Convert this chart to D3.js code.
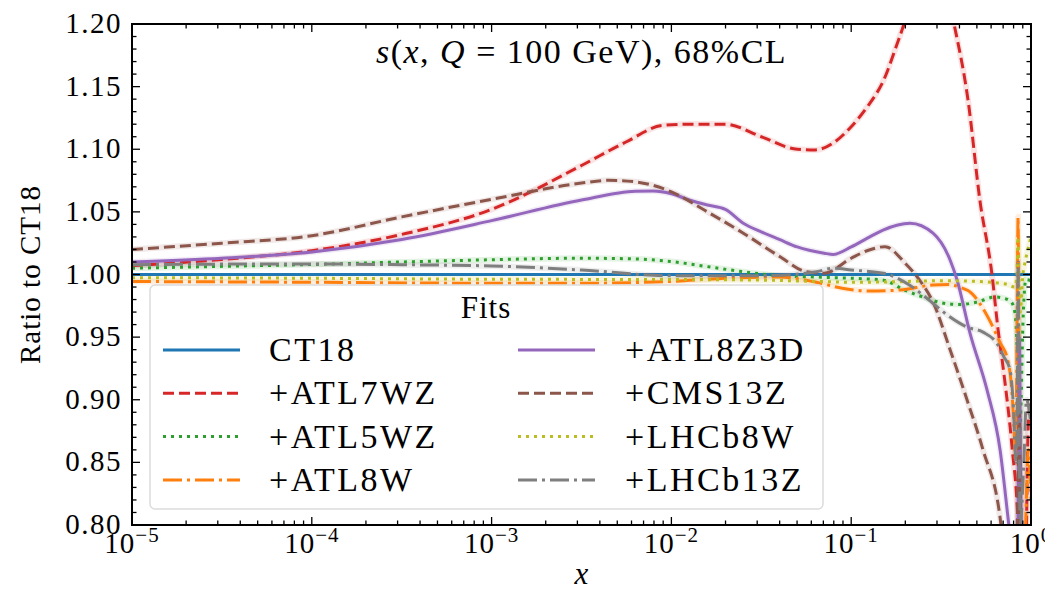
<!DOCTYPE html>
<html>
<head>
<meta charset="utf-8">
<script src="https://cdn.jsdelivr.net/npm/d3@7"></script>
<style>
  body { margin: 0; background: #fff; }
  svg text { font-family: "Liberation Serif", "Times New Roman", "DejaVu Serif", serif; }
</style>
</head>
<body>
<div id="chart"></div>
<script>
// --- data (x given as log10 exponents, y as ratio to CT18) ---
const ct18X = [-5, 0];
const ct18Y = [1, 1];

const atl7wzX = [-5, -4.5, -4, -3.5, -3, -2.5, -2.25, -2.05, -1.9, -1.7, -1.5, -1.3, -1.2, -1.1, -1.0, -0.91, -0.82, -0.73, -0.6, -0.5, -0.428, -0.35, -0.284, -0.217, -0.184, -0.15, -0.106, -0.072, -0.05, -0.03, -0.015, 0];
const atl7wzY = [1.007, 1.012, 1.019, 1.032, 1.052, 1.087, 1.106, 1.119, 1.120, 1.120, 1.110, 1.100, 1.0995, 1.105, 1.118, 1.134, 1.155, 1.190, 1.240, 1.245, 1.200, 1.139, 1.059, 1.000, 0.957, 0.920, 0.863, 0.800, 0.700, 0.760, 0.880, 0.900];

const atl5wzX = [-5, -4.5, -4, -3.5, -3, -2.5, -2.2, -2, -1.8, -1.6, -1.4, -1.2, -1, -0.82, -0.71, -0.6, -0.5, -0.4, -0.3, -0.2, -0.15, -0.11, -0.09, -0.075, -0.065, -0.055, -0.045, -0.028, 0];
const atl5wzY = [1.005, 1.0065, 1.008, 1.010, 1.0118, 1.013, 1.0124, 1.0103, 1.0063, 1.0022, 0.999, 0.998, 0.997, 0.9955, 0.988, 0.982, 0.9775, 0.976, 0.978, 0.982, 0.981, 0.978, 0.970, 0.930, 0.860, 0.900, 0.960, 0.996, 0.995];

const atl8wX = [-5, -4, -3, -2.5, -2, -1.7, -1.4, -1.2, -1.05, -0.9, -0.73, -0.545, -0.45, -0.4, -0.33, -0.24, -0.17, -0.13, -0.11, -0.095, -0.085, -0.078, -0.072, -0.067, -0.06, -0.05, -0.03, -0.015, 0];
const atl8wY = [0.9944, 0.9938, 0.993, 0.993, 0.9945, 0.997, 0.998, 0.994, 0.989, 0.9868, 0.9876, 0.9916, 0.992, 0.990, 0.985, 0.966, 0.945, 0.932, 0.913, 0.880, 0.850, 0.950, 1.046, 0.950, 0.820, 0.750, 0.800, 0.860, 0.820];

const atl8z3dX = [-5, -4.5, -4, -3.5, -3, -2.5, -2.2, -2.1, -2, -1.9, -1.8, -1.7, -1.6, -1.5, -1.4, -1.3, -1.15, -1.1, -1, -0.91, -0.823, -0.673, -0.545, -0.45, -0.412, -0.339, -0.245, -0.172, -0.128, -0.1, -0.075, -0.068, -0.065, -0.06, -0.05, 0];
const atl8z3dY = [1.010, 1.013, 1.018, 1.028, 1.043, 1.0595, 1.0665, 1.0667, 1.0645, 1.0595, 1.0555, 1.052, 1.041, 1.034, 1.028, 1.022, 1.017, 1.016, 1.022, 1.029, 1.0355, 1.0409, 1.033, 1.0116, 0.996, 0.953, 0.908, 0.860, 0.806, 0.770, 0.750, 0.900, 0.950, 0.880, 0.750, 0.700];

const cms13zX = [-5, -4.5, -4, -3.5, -3, -2.5, -2.35, -2.2, -2, -1.8, -1.6, -1.4, -1.25, -1.15, -1, -0.9, -0.812, -0.7, -0.617, -0.545, -0.45, -0.356, -0.267, -0.172, -0.1, -0.07, -0.065, -0.06, -0.05, 0];
const cms13zY = [1.020, 1.025, 1.031, 1.046, 1.060, 1.073, 1.0752, 1.074, 1.066, 1.050, 1.033, 1.0146, 1.0022, 1.001, 1.013, 1.0196, 1.0222, 1.009, 0.995, 0.978, 0.940, 0.900, 0.860, 0.806, 0.700, 0.850, 0.890, 0.800, 0.700, 0.650];

const lhcb8wX = [-5, -4, -3, -2, -1.5, -1.2, -1, -0.82, -0.5, -0.3, -0.17, -0.128, -0.09, -0.078, -0.072, -0.066, -0.06, -0.045, -0.033, -0.017, 0];
const lhcb8wY = [0.9975, 0.997, 0.9962, 0.996, 0.9955, 0.9945, 0.9938, 0.994, 0.995, 0.9945, 0.993, 0.992, 0.990, 1.000, 1.030, 0.990, 0.970, 1.000, 1.010, 1.020, 1.030];

const lhcb13zX = [-5, -4.5, -4, -3.5, -3, -2.5, -2, -1.5, -1.2, -1.1, -1, -0.82, -0.67, -0.545, -0.45, -0.356, -0.267, -0.19, -0.15, -0.117, -0.1, -0.083, -0.076, -0.072, -0.067, -0.06, -0.04, -0.025, 0];
const lhcb13zY = [1.0078, 1.0083, 1.0084, 1.0078, 1.0068, 1.0036, 0.9990, 0.9990, 1.002, 1.005, 1.0036, 1.001, 0.991, 0.977, 0.966, 0.958, 0.954, 0.945, 0.934, 0.924, 0.900, 0.850, 0.900, 1.010, 0.900, 0.800, 0.850, 0.900, 0.880];

const seriesNames = ["CT18", "+ATL7WZ", "+ATL5WZ", "+ATL8W", "+ATL8Z3D", "+CMS13Z", "+LHCb8W", "+LHCb13Z"];
const seriesX = [ct18X, atl7wzX, atl5wzX, atl8wX, atl8z3dX, cms13zX, lhcb8wX, lhcb13zX];
const seriesY = [ct18Y, atl7wzY, atl5wzY, atl8wY, atl8z3dY, cms13zY, lhcb8wY, lhcb13zY];

const yTicks = [0.80, 0.85, 0.90, 0.95, 1.00, 1.05, 1.10, 1.15, 1.20];
const xTickExps = [-5, -4, -3, -2, -1, 0];

// --- styles ---
const colors = ["#1f77b4", "#d62728", "#2ca02c", "#ff7f0e", "#9467bd", "#8c564b", "#bcbd22", "#7f7f7f"];
const dashes = [null, "11,5", "3,5", "19,5,3,5", null, "11,5", "3,5", "19,5,3,5"];
const serif = "'Liberation Serif', 'Times New Roman', 'DejaVu Serif', serif";

const width = 1045, height = 591;
const margin = { top: 24, right: 14, bottom: 66, left: 132 };
const iw = width - margin.left - margin.right;
const ih = height - margin.top - margin.bottom;

const x = d3.scaleLog().domain([1e-5, 1]).range([0, iw]);
const y = d3.scaleLinear().domain([0.8, 1.2]).range([ih, 0]);

const svg = d3.select("#chart").append("svg")
  .attr("width", width).attr("height", height)
  .attr("font-family", serif);

svg.append("defs").append("clipPath").attr("id", "clip")
  .append("rect").attr("width", iw).attr("height", ih);

const g = svg.append("g").attr("transform", `translate(${margin.left},${margin.top})`);

// --- curves ---
const line = d3.line()
  .x(d => x(d[0]))
  .y(d => y(d[1]))
  .curve(d3.curveMonotoneX);

const curves = g.append("g").attr("clip-path", "url(#clip)");
const pointsOf = i => seriesX[i].map((e, j) => [Math.pow(10, e), seriesY[i][j]]);
// faint band under each fit line
seriesNames.forEach((name, i) => {
  if (i === 0) return;
  curves.append("path").datum(pointsOf(i))
    .attr("d", line).attr("fill", "none")
    .attr("stroke", colors[i]).attr("stroke-opacity", 0.13)
    .attr("stroke-width", 6);
});
seriesNames.forEach((name, i) => {
  curves.append("path").datum(pointsOf(i))
    .attr("d", line).attr("fill", "none")
    .attr("stroke", colors[i]).attr("stroke-width", 3)
    .attr("stroke-dasharray", dashes[i]);
});

// --- ticks (inward, all four sides) ---
const majorX = xTickExps.map(e => Math.pow(10, e));
const minorX = [];
xTickExps.slice(0, -1).forEach(e => { for (let k = 2; k <= 9; k++) minorX.push(k * Math.pow(10, e)); });
const minorY = d3.range(80, 121).map(v => v / 100).filter(v => Math.round(v * 100) % 5 !== 0);

const ticks = g.append("g").attr("stroke", "#000").attr("stroke-width", 1.3);
[[majorX, 8], [minorX, 4.5]].forEach(([vals, len]) => {
  vals.forEach(v => {
    ticks.append("line").attr("x1", x(v)).attr("x2", x(v)).attr("y1", ih).attr("y2", ih - len);
    ticks.append("line").attr("x1", x(v)).attr("x2", x(v)).attr("y1", 0).attr("y2", len);
  });
});
[[yTicks, 8], [minorY, 4.5]].forEach(([vals, len]) => {
  vals.forEach(v => {
    ticks.append("line").attr("y1", y(v)).attr("y2", y(v)).attr("x1", 0).attr("x2", len);
    ticks.append("line").attr("y1", y(v)).attr("y2", y(v)).attr("x1", iw).attr("x2", iw - len);
  });
});

g.append("rect").attr("width", iw).attr("height", ih)
  .attr("fill", "none").attr("stroke", "#000").attr("stroke-width", 2);

// --- tick labels ---
g.append("g").selectAll("text").data(yTicks).join("text")
  .attr("x", -10).attr("y", d => y(d) + 9)
  .attr("text-anchor", "end").attr("font-size", 29)
  .attr("letter-spacing", 1.5)
  .attr("font-family", serif)
  .text(d => d.toFixed(2));

const xl = g.append("g").selectAll("text").data(xTickExps).join("text")
  .attr("x", d => x(Math.pow(10, d))).attr("y", ih + 28)
  .attr("text-anchor", "middle").attr("font-size", 29)
  .attr("letter-spacing", 1)
  .attr("font-family", serif);
xl.append("tspan").text("10");
xl.append("tspan").attr("dy", -11).attr("font-size", 21)
  .text(d => d === 0 ? "0" : "\u2212" + Math.abs(d));

// --- axis labels and title ---
svg.append("text")
  .attr("transform", `translate(40,${margin.top + ih / 2}) rotate(-90)`)
  .attr("text-anchor", "middle").attr("font-size", 29)
  .attr("letter-spacing", 1)
  .attr("font-family", serif)
  .text("Ratio to CT18");

svg.append("text")
  .attr("x", margin.left + iw / 2).attr("y", 584)
  .attr("text-anchor", "middle").attr("font-size", 31).attr("font-style", "italic")
  .attr("font-family", serif)
  .text("x");

const title = g.append("text")
  .attr("x", iw / 2).attr("y", 39)
  .attr("text-anchor", "middle").attr("font-size", 34)
  .attr("letter-spacing", 1.5)
  .attr("font-family", serif);
[["s", true], ["(", false], ["x", true], [", ", false], ["Q", true], [" = 100 GeV),  68%CL", false]]
  .forEach(([t, it]) => title.append("tspan").attr("font-style", it ? "italic" : "normal").text(t));

// --- legend ---
const leg = svg.append("g");
leg.append("rect")
  .attr("x", 150).attr("y", 285).attr("width", 673).attr("height", 224).attr("rx", 5)
  .attr("fill", "#fff").attr("fill-opacity", 0.85)
  .attr("stroke", "#dcdcdc").attr("stroke-width", 1.5);
leg.append("text").attr("x", 486).attr("y", 318)
  .attr("text-anchor", "middle").attr("font-size", 31)
  .attr("letter-spacing", 1)
  .attr("font-family", serif).text("Fits");

seriesNames.forEach((name, i) => {
  const col = Math.floor(i / 4), row = i % 4;
  const hx = col === 0 ? 163 : 518;
  const tx = col === 0 ? 269 : 625;
  const ry = 350 + row * 43.3;
  leg.append("line")
    .attr("x1", hx).attr("x2", hx + 77).attr("y1", ry).attr("y2", ry)
    .attr("stroke", colors[i]).attr("stroke-width", 3)
    .attr("stroke-dasharray", dashes[i]);
  leg.append("text").attr("x", tx).attr("y", ry + 11)
    .attr("font-size", 34).attr("letter-spacing", 2.5)
    .attr("font-family", serif).text(name);
});
</script>
</body>
</html>
